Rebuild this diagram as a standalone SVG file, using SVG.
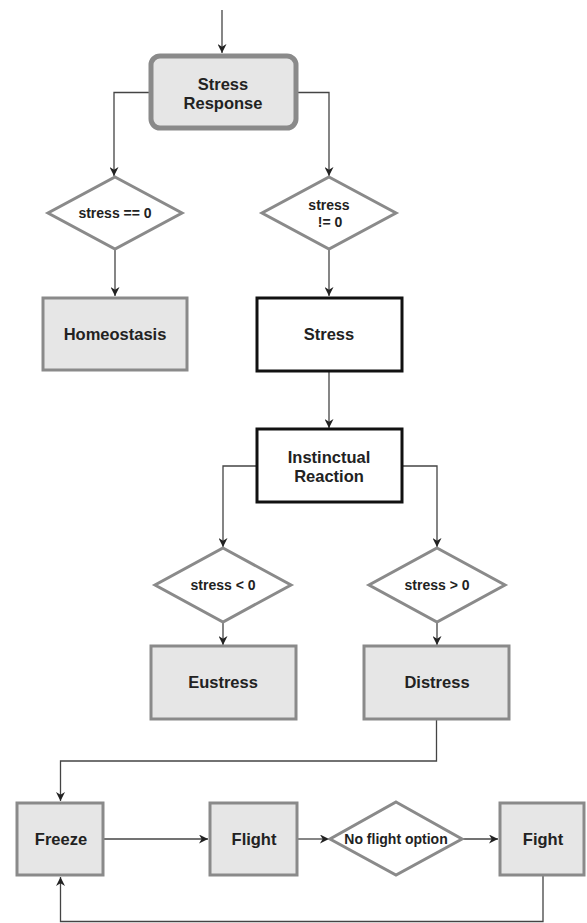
<svg xmlns="http://www.w3.org/2000/svg" width="587" height="923" viewBox="0 0 587 923">
<defs>
<marker id="ah" viewBox="0 0 10 10" refX="10" refY="5" markerWidth="9" markerHeight="9" markerUnits="userSpaceOnUse" orient="auto">
<path d="M0,0 L10,5 L0,10 L3,5 Z" fill="#222"/>
</marker>
<style>
.t{font-family:"Liberation Sans",Arial,sans-serif;font-weight:bold;fill:#222;text-anchor:middle}
.big{font-size:16.5px}
.sm{font-size:14px}
.gray{fill:#e6e6e6;stroke:#8a8a8a;stroke-width:3}
.blk{fill:#fff;stroke:#111;stroke-width:3}
.dia{fill:#fff;stroke:#8a8a8a;stroke-width:3}
.c{fill:none;stroke:#444;stroke-width:1.3;marker-end:url(#ah)}
</style>
</defs>
<rect width="587" height="923" fill="#fff"/>
<g id="connectors">
<path class="c" d="M222,10 V53"/>
<path class="c" d="M149,92.5 H114 V176"/>
<path class="c" d="M298,92.5 H329 V176"/>
<path class="c" d="M115,250 V296"/>
<path class="c" d="M329,250 V296"/>
<path class="c" d="M329,372 V428"/>
<path class="c" d="M257,466 H223 V547"/>
<path class="c" d="M402,466 H437 V547"/>
<path class="c" d="M223,623 V645"/>
<path class="c" d="M437,623 V645"/>
<path class="c" d="M436.5,720 V761 H60.5 V801"/>
<path class="c" d="M104,839 H208"/>
<path class="c" d="M298,839 H329"/>
<path class="c" d="M463,839 H498"/>
<path class="c" d="M543,876 V921.5 H60.5 V877"/>
</g>
<g id="stress-response">
<rect x="151" y="56" width="145" height="72" rx="9" fill="#e6e6e6" stroke="#8a8a8a" stroke-width="5"/>
<text class="t big" x="223" y="90">Stress</text>
<text class="t big" x="223" y="109">Response</text>
</g>
<g id="d-eq0">
<polygon class="dia" points="115,177 182,213 115,249 48,213"/>
<text class="t sm" x="115" y="218">stress == 0</text>
</g>
<g id="d-ne0">
<polygon class="dia" points="329,177 396,213 329,249 262,213"/>
<text class="t sm" x="329" y="210">stress</text>
<text class="t sm" x="330" y="227">!= 0</text>
</g>
<g id="homeostasis">
<rect class="gray" x="43" y="298" width="144" height="72"/>
<text class="t big" x="115" y="340">Homeostasis</text>
</g>
<g id="stress">
<rect class="blk" x="257" y="298" width="145" height="73"/>
<text class="t big" x="329" y="340">Stress</text>
</g>
<g id="instinctual">
<rect class="blk" x="257" y="429" width="145" height="73"/>
<text class="t big" x="329" y="463">Instinctual</text>
<text class="t big" x="329" y="482">Reaction</text>
</g>
<g id="d-lt0">
<polygon class="dia" points="223,548 291,585 223,622 155,585"/>
<text class="t sm" x="223" y="590">stress &lt; 0</text>
</g>
<g id="d-gt0">
<polygon class="dia" points="437,548 505,585 437,622 369,585"/>
<text class="t sm" x="437" y="590">stress &gt; 0</text>
</g>
<g id="eustress">
<rect class="gray" x="151" y="646" width="145" height="73"/>
<text class="t big" x="223" y="688">Eustress</text>
</g>
<g id="distress">
<rect class="gray" x="364" y="646" width="145" height="73"/>
<text class="t big" x="437" y="688">Distress</text>
</g>
<g id="freeze">
<rect class="gray" x="17" y="803" width="86" height="72"/>
<text class="t big" x="61" y="845">Freeze</text>
</g>
<g id="flight">
<rect class="gray" x="210" y="803" width="87" height="72"/>
<text class="t big" x="254" y="845">Flight</text>
</g>
<g id="d-noflight">
<polygon class="dia" points="396,802 462,839 396,875 330,839"/>
<text class="t sm" x="396" y="844">No flight option</text>
</g>
<g id="fight">
<rect class="gray" x="500" y="803" width="84" height="72"/>
<text class="t big" x="543" y="845">Fight</text>
</g>
</svg>
